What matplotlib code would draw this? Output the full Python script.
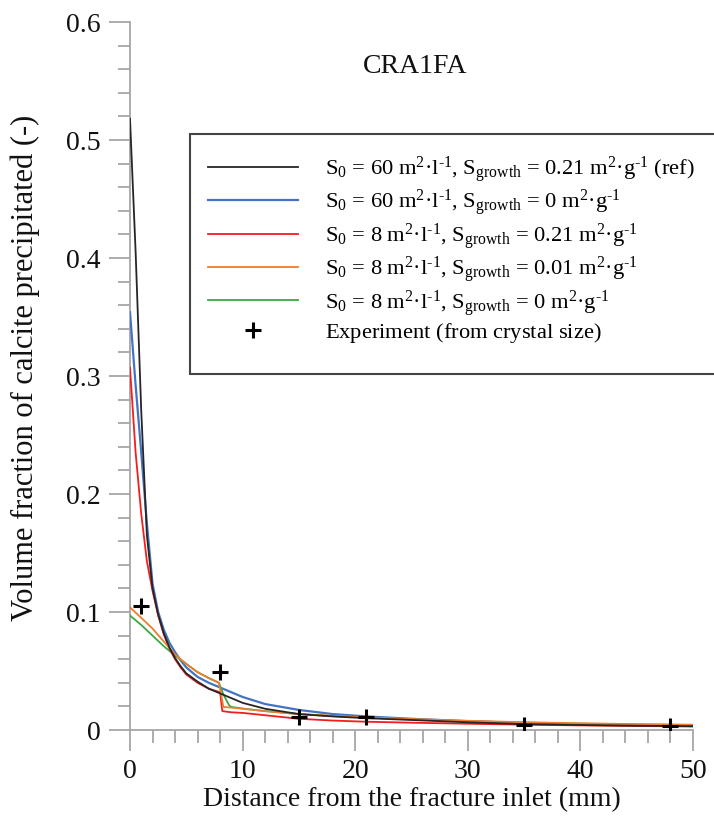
import matplotlib
matplotlib.use("Agg")
import matplotlib.pyplot as plt
from matplotlib.patches import Rectangle
from matplotlib.ticker import MultipleLocator

plt.rcParams['font.family'] = ['Liberation Serif', 'DejaVu Serif']
plt.rcParams['mathtext.fontset'] = 'custom'
plt.rcParams['mathtext.rm'] = 'Liberation Serif'
plt.rcParams['mathtext.it'] = 'Liberation Serif:italic'

# Reference run: S0 = 60 m2/l, Sgrowth = 0.21 m2/g
x_ref = [0, 0.5, 1.0, 1.5, 2.0, 2.5, 3, 3.5, 4, 4.5, 5, 6, 7, 8, 9, 10, 12, 15, 18, 21, 25, 30, 35, 40, 45, 50]
y_ref = [0.518, 0.405, 0.27, 0.165, 0.120, 0.098, 0.082, 0.070, 0.061, 0.054, 0.048, 0.041, 0.035, 0.031,
         0.027, 0.023, 0.018, 0.0135, 0.0115, 0.010, 0.0085, 0.0065, 0.0050, 0.0042, 0.0036, 0.0032]

# S0 = 60 m2/l, Sgrowth = 0
x_s60_g0 = [0, 0.5, 1.0, 1.5, 2.0, 2.5, 3, 3.5, 4, 4.5, 5, 6, 7, 8, 9, 10, 12, 15, 18, 21, 25, 30, 35, 40, 45, 50]
y_s60_g0 = [0.354, 0.292, 0.235, 0.175, 0.124, 0.100, 0.085, 0.074, 0.066, 0.059, 0.053, 0.045, 0.040, 0.036,
            0.032, 0.028, 0.022, 0.017, 0.0135, 0.0115, 0.0095, 0.0075, 0.0058, 0.0048, 0.0040, 0.0035]

# S0 = 8 m2/l, Sgrowth = 0.21
x_s8_g021 = [0, 0.5, 1.0, 1.5, 2.0, 2.5, 3, 3.5, 4, 4.5, 5, 6, 7, 8, 8.2, 9, 10, 12, 15, 18, 21, 25, 30,
             35, 40, 45, 50]
y_s8_g021 = [0.307, 0.235, 0.183, 0.143, 0.118, 0.097, 0.081, 0.069, 0.060, 0.053, 0.047, 0.040, 0.035,
             0.032, 0.016, 0.0150, 0.0145, 0.0125, 0.0095, 0.0080, 0.0070, 0.0062, 0.0053, 0.0045,
             0.0039, 0.0034, 0.0030]

# S0 = 8 m2/l, Sgrowth = 0.01
x_s8_g001 = [0, 1, 2, 3, 4, 5, 6, 7, 7.9, 8.3, 9, 10, 12, 15, 18, 21, 25, 30, 35, 40, 45, 50]
y_s8_g001 = [0.104, 0.095, 0.086, 0.075, 0.064, 0.056, 0.049, 0.044, 0.040, 0.0195, 0.0190, 0.0180,
             0.0160, 0.0135, 0.0120, 0.0108, 0.0093, 0.0078, 0.0066, 0.0057, 0.0050, 0.0045]

# S0 = 8 m2/l, Sgrowth = 0
x_s8_g0 = [0, 1, 2, 3, 4, 5, 6, 7, 7.9, 8.3, 8.8, 9, 10, 12, 15, 18, 21, 25, 30, 35, 40, 45, 50]
y_s8_g0 = [0.097, 0.089, 0.080, 0.071, 0.063, 0.056, 0.049, 0.044, 0.040, 0.030, 0.021, 0.0195, 0.0182,
           0.0160, 0.0135, 0.0118, 0.0105, 0.0090, 0.0075, 0.0063, 0.0054, 0.0047, 0.0042]

# Experimental estimates from crystal size
x_exp = [1, 8, 15, 21, 35, 48]
y_exp = [0.105, 0.049, 0.011, 0.011, 0.004, 0.003]

y_ticklabels = ['0', '0.1', '0.2', '0.3', '0.4', '0.5', '0.6']

unit_l = "m$^{2}$\u00b7l$^{\\text{-1}}$"
unit_g = "m$^{2}$\u00b7g$^{\\text{-1}}$"
labels = [
    r"S$_0$ = 60 " + unit_l + r", S$_{\rm growth}$ = 0.21 " + unit_g + " (ref)",
    r"S$_0$ = 60 " + unit_l + r", S$_{\rm growth}$ = 0 " + unit_g,
    r"S$_0$ = 8 " + unit_l + r", S$_{\rm growth}$ = 0.21 " + unit_g,
    r"S$_0$ = 8 " + unit_l + r", S$_{\rm growth}$ = 0.01 " + unit_g,
    r"S$_0$ = 8 " + unit_l + r", S$_{\rm growth}$ = 0 " + unit_g,
    "Experiment (from crystal size)$^{\\,}$",
]

fig = plt.figure(figsize=(7.14, 8.26), dpi=100)
ax = fig.add_axes([130 / 714, 1 - 730 / 826, (693 - 130) / 714, (730 - 22) / 826])

h_ref, = ax.plot(x_ref, y_ref, color='#262626', lw=1.3, zorder=6)
h_b, = ax.plot(x_s60_g0, y_s60_g0, color='#4472c4', lw=1.6, zorder=3)
h_r, = ax.plot(x_s8_g021, y_s8_g021, color='#f21e1e', lw=1.3, zorder=4)
h_o, = ax.plot(x_s8_g001, y_s8_g001, color='#ed7d31', lw=1.3, zorder=4)
h_g, = ax.plot(x_s8_g0, y_s8_g0, color='#3aa845', lw=1.3, zorder=3)
h_e, = ax.plot(x_exp, y_exp, linestyle='none', marker='+', color='black',
               markersize=11, markeredgewidth=2.2, zorder=7)

ax.set_xlim(0, 50)
ax.set_ylim(0, 0.6)
ax.xaxis.set_major_locator(MultipleLocator(10))
ax.xaxis.set_minor_locator(MultipleLocator(2))
ax.set_yticks([0, 0.1, 0.2, 0.3, 0.4, 0.5, 0.6])
ax.set_yticklabels(y_ticklabels)
ax.yaxis.set_minor_locator(MultipleLocator(0.02))

for s in ['top', 'right']:
    ax.spines[s].set_visible(False)
for s in ['left', 'bottom']:
    ax.spines[s].set_color('#a6a6a6')
    ax.spines[s].set_linewidth(1.3)

ax.tick_params(which='both', direction='out', color='#a6a6a6', width=1.3, labelsize=20,
               labelcolor='#111111')
ax.tick_params(which='major', length=15, pad=6)
ax.tick_params(which='minor', length=9)

ax.set_xlabel("Distance from the fracture inlet (mm)", fontsize=20, labelpad=2, color='#111111')
fig.text(25 / 714, 1 - 368 / 826, "Volume fraction of calcite precipitated (-)", fontsize=22,
         rotation=90, ha='center', va='center', color='#111111')

ax.text(25.3, 0.562, "CRA1FA", fontsize=20, ha='center', va='center', color='#111111')

leg = fig.legend([h_ref, h_b, h_r, h_o, h_g, h_e], labels,
                 loc='upper left',
                 bbox_to_anchor=(188 / 714, 1 - 134 / 826, 540 / 714, 0.0),
                 mode='expand', fontsize=16.2, handlelength=4.0, handletextpad=1.2,
                 labelspacing=0.12, borderpad=0.9, borderaxespad=0, frameon=False)

# legend box
fig.add_artist(Rectangle((190 / 714, 1 - 374 / 826), 530 / 714, 240 / 826,
                         transform=fig.transFigure, fill=True, facecolor='white',
                         edgecolor='#444444', linewidth=1.5, zorder=leg.get_zorder() - 0.5))

fig.savefig("out.png", dpi=100)
